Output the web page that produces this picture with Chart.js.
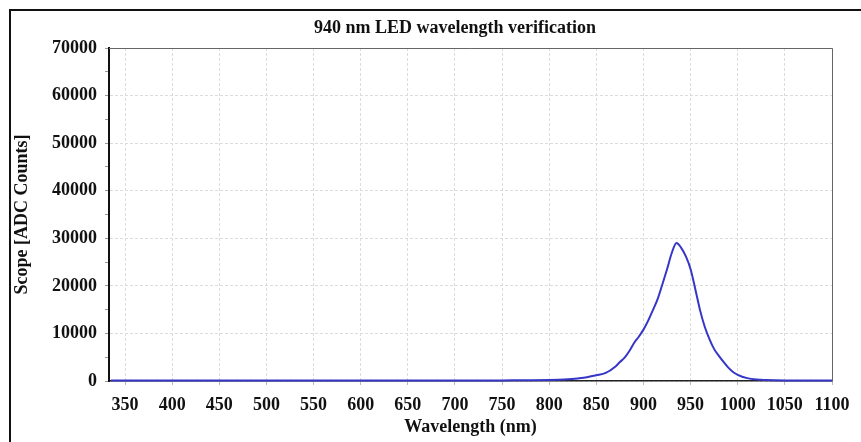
<!DOCTYPE html>
<html>
<head>
<meta charset="utf-8">
<script src="https://cdn.jsdelivr.net/npm/chart.js@4.4.1/dist/chart.umd.min.js"></script>
<style>
  html, body { margin: 0; padding: 0; background: #fff; overflow: hidden; }
  #wrap { position: relative; width: 861px; height: 442px; }
  #frame { position: absolute; left: 9px; top: 9px; width: 900px; height: 500px; border: 2px solid #111; pointer-events: none; }
</style>
</head>
<body>
<div id="wrap">
  <canvas id="chart" width="861" height="442"></canvas>
  <div id="frame"></div>
</div>
<script>
const chartTitle = "940 nm LED wavelength verification";
const xTitle = "Wavelength (nm)";
const yTitle = "Scope [ADC Counts]";

// wavelength (nm)
const wavelengths = [335, 350, 400, 450, 500, 550, 600, 650, 700, 750, 780, 800, 810, 820, 830, 840, 850, 860, 870, 875,
  880, 885, 890, 895, 900, 905, 910, 915, 920, 925, 930, 935, 940, 945, 950, 955, 960, 965, 970, 975,
  980, 985, 990, 995, 1000, 1010, 1020, 1030, 1040, 1050, 1075, 1100];
// scope counts
const counts = [120, 110, 100, 100, 110, 100, 110, 120, 110, 130, 150, 200, 250, 350, 550, 800, 1200, 1700, 3000, 4000,
  4900, 6300, 8000, 9300, 10800, 12700, 14900, 17200, 20300, 23500, 26900, 29000, 28000, 26200, 23500, 19300, 14900, 11400, 8800, 6700,
  5300, 4000, 2800, 1900, 1300, 600, 300, 200, 150, 120, 100, 100];

const xTicks = [350, 400, 450, 500, 550, 600, 650, 700, 750, 800, 850, 900, 950, 1000, 1050, 1100];
const yTicks = [0, 5000, 10000, 15000, 20000, 25000, 30000, 35000, 40000, 45000, 50000, 55000, 60000, 65000, 70000];

const serif = "'Liberation Serif', 'Times New Roman', serif";

const framePlugin = {
  id: "framePlugin",
  afterDatasetsDraw(chart) {
    const { ctx, chartArea: a } = chart;
    ctx.save();
    ctx.strokeStyle = "#666";
    ctx.lineWidth = 1;
    ctx.beginPath();
    ctx.moveTo(a.left, a.top + 0.5);
    ctx.lineTo(a.right + 0.5, a.top + 0.5);
    ctx.lineTo(a.right + 0.5, a.bottom);
    ctx.stroke();
    ctx.restore();
  },
  afterDraw(chart) {
    const { ctx } = chart;
    ctx.save();
    ctx.fillStyle = "#111";
    ctx.font = "bold 18px " + serif;
    ctx.textAlign = "center";
    ctx.textBaseline = "middle";
    ctx.fillText(chartTitle, 455, 28);
    ctx.restore();
  }
};

new Chart(document.getElementById("chart"), {
  type: "line",
  data: {
    datasets: [{
      data: wavelengths.map((w, i) => ({ x: w, y: counts[i] })),
      borderColor: "#3636c8",
      borderWidth: 2,
      pointRadius: 0,
      cubicInterpolationMode: "monotone",
      clip: 3
    }]
  },
  options: {
    responsive: false,
    animation: false,
    layout: { padding: { left: 0, right: 29, top: 48, bottom: 0 } },
    plugins: { legend: { display: false }, tooltip: { enabled: false } },
    scales: {
      x: {
        type: "linear",
        min: 333,
        max: 1100,
        afterBuildTicks: s => { s.ticks = xTicks.map(v => ({ value: v })); },
        afterFit: s => { s.height = 61; },
        ticks: {
          color: "#111",
          font: { family: serif, size: 18, weight: "bold" },
          padding: 10,
          maxRotation: 0,
          autoSkip: false,
          callback: v => String(v)
        },
        grid: { color: "#dcdcdc", tickColor: "#bbb", tickLength: 4 },
        border: { color: "#222", width: 1.5, dash: [3, 2] },
        title: { display: true, text: xTitle, color: "#111", font: { family: serif, size: 18, weight: "bold" }, padding: { top: 0, bottom: 4 } }
      },
      y: {
        min: 0,
        max: 70000,
        afterBuildTicks: s => { s.ticks = yTicks.map(v => ({ value: v })); },
        afterFit: s => { s.width = 109; },
        ticks: {
          color: "#111",
          font: { family: serif, size: 18, weight: "bold" },
          padding: 8,
          autoSkip: false,
          callback: v => (v % 10000 === 0 ? String(v) : "")
        },
        grid: {
          color: c => (c.tick && c.tick.value % 10000 === 0 ? "#dcdcdc" : "rgba(0,0,0,0)"),
          tickColor: "#999",
          tickLength: 4
        },
        border: { color: "#111", width: 2, dash: [3, 2] },
        title: { display: true, text: yTitle, color: "#111", font: { family: serif, size: 18, weight: "bold" }, padding: { top: 12, bottom: 0 } }
      }
    }
  },
  plugins: [framePlugin]
});
</script>
</body>
</html>
